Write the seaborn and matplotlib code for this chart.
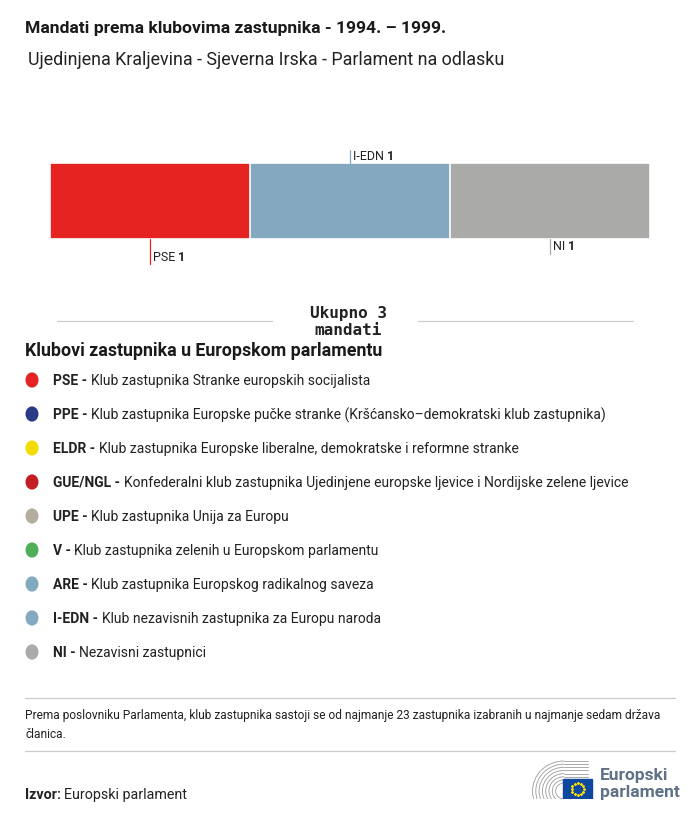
import matplotlib
matplotlib.use("Agg")
import matplotlib.pyplot as plt
import numpy as np
import pandas as pd
import seaborn as sns
from matplotlib.patches import Rectangle, Arc, Circle

# ---- data ----
bar_groups = ["PSE", "I-EDN", "NI"]
bar_seats = [1, 1, 1]
bar_colors = ["#E52421", "#84A9BF", "#AAAAA9"]
label_side = ["below_long", "above", "below_short"]

legend_codes = ["PSE", "PPE", "ELDR", "GUE/NGL", "UPE", "V", "ARE", "I-EDN", "NI"]
legend_names = [
    "Klub zastupnika Stranke europskih socijalista",
    "Klub zastupnika Europske pučke stranke (Kršćansko–demokratski klub zastupnika)",
    "Klub zastupnika Europske liberalne, demokratske i reformne stranke",
    "Konfederalni klub zastupnika Ujedinjene europske ljevice i Nordijske zelene ljevice",
    "Klub zastupnika Unija za Europu",
    "Klub zastupnika zelenih u Europskom parlamentu",
    "Klub zastupnika Europskog radikalnog saveza",
    "Klub nezavisnih zastupnika za Europu naroda",
    "Nezavisni zastupnici",
]
legend_colors = ["#E52421", "#2B3A84", "#F0DC00", "#C41E24", "#B5ADA0",
                 "#4FAE57", "#84A9BF", "#84A9BF", "#AAAAA9"]

title = "Mandati prema klubovima zastupnika - 1994. – 1999."
subtitle = "Ujedinjena Kraljevina - Sjeverna Irska - Parlament na odlasku"
total_text = "Ukupno 3\nmandati"
legend_title = "Klubovi zastupnika u Europskom parlamentu"
note = "Prema poslovniku Parlamenta, klub zastupnika sastoji se od najmanje 23 zastupnika izabranih u najmanje sedam država\nčlanica."

sns.set_theme(style="white")
plt.rcParams["font.family"] = ["Roboto", "DejaVu Sans"]

W, H = 700, 820
fig = plt.figure(figsize=(W / 100, H / 100), dpi=100)
fig.patch.set_facecolor("white")


def fx(x):
    return x / W


def fy(y):
    return 1 - y / H


renderer = fig.canvas.get_renderer()


def rich(x, y, bold, normal, size, color="#222222"):
    t = fig.text(fx(x), fy(y), bold, fontsize=size, fontweight="bold",
                 color=color, va="center", ha="left")
    bb = t.get_window_extent(renderer=renderer)
    fig.text(bb.x1 / W, fy(y), normal, fontsize=size,
             color=color, va="center", ha="left")


# titles
fig.text(fx(25), fy(29), title, fontsize=12.6, fontweight="bold", color="#1a1a1a", va="center")
fig.text(fx(28), fy(60), subtitle, fontsize=12.9, color="#222222", va="center")

# ---- stacked bar through seaborn ----
ax = fig.add_axes([fx(50), fy(240), fx(650) - fx(50), (240 - 164) / H])
cum = np.cumsum(bar_seats)
df = pd.DataFrame({"group": bar_groups, "cum": cum, "row": ["all"] * len(bar_groups)})
for i in range(len(bar_groups) - 1, -1, -1):
    sub = df.iloc[[i]]
    sns.barplot(data=sub, x="cum", y="row", color=bar_colors[i], width=1.0,
                ax=ax, saturation=1, edgecolor="white", linewidth=1.2, orient="h")
ax.set_xlim(0, cum[-1])
ax.set_ylim(0.5, -0.5)
ax.axis("off")

# annotations
starts = np.concatenate([[0], cum[:-1]])
for g, s, v, side, c in zip(bar_groups, starts, bar_seats, label_side, bar_colors):
    xm = s + v / 2
    if side == "above":
        ax.plot([xm, xm], [-0.5, -0.67], color=c, lw=0.9, clip_on=False)
        t = ax.text(xm + 0.015, -0.6, g + " ", fontsize=9, color="#222", va="center", ha="left", clip_on=False)
    elif side == "below_long":
        ax.plot([xm, xm], [0.5, 0.83], color=c, lw=0.9, clip_on=False)
        t = ax.text(xm + 0.015, 0.73, g + " ", fontsize=9, color="#222", va="center", ha="left", clip_on=False)
    else:
        ax.plot([xm, xm], [0.5, 0.7], color=c, lw=0.9, clip_on=False)
        t = ax.text(xm + 0.015, 0.59, g + " ", fontsize=9, color="#222", va="center", ha="left", clip_on=False)
    bb = t.get_window_extent(renderer=renderer)
    fig.text(bb.x1 / W, (bb.y0 + bb.y1) / 2 / H, str(v), fontsize=9, fontweight="bold",
             color="#222", va="center", ha="left")

# total
fig.text(fx(348), fy(322), total_text, fontsize=11.5, fontweight="bold", family="DejaVu Sans Mono",
         color="#222", ha="center", va="center", linespacing=1.2)
fig.add_artist(plt.Line2D([fx(57), fx(272)], [fy(322), fy(322)], color="#cccccc", lw=0.9))
fig.add_artist(plt.Line2D([fx(418), fx(633)], [fy(322), fy(322)], color="#cccccc", lw=0.9))

# legend
fig.text(fx(25), fy(351), legend_title, fontsize=12.8, fontweight="bold", color="#1a1a1a", va="center")
row_y = [381, 415, 449, 483, 517, 551, 585, 619, 653]
for yy, code, name, col in zip(row_y, legend_codes, legend_names, legend_colors):
    fig.add_artist(Circle((fx(32), fy(yy)), radius=6.5 / W, transform=fig.transFigure,
                          color=col, ec="none"))
    rich(53, yy, code + " - ", name, 10)

# footer
fig.add_artist(plt.Line2D([fx(25), fx(675)], [fy(699), fy(699)], color="#cccccc", lw=0.9))
fig.text(fx(25), fy(725), note, fontsize=8.6, color="#222", va="center", linespacing=1.65)
fig.add_artist(plt.Line2D([fx(25), fx(675)], [fy(752), fy(752)], color="#cccccc", lw=0.9))
rich(25, 795, "Izvor: ", "Europski parlament", 10.3)

# logo
lax = fig.add_axes([fx(528), fy(800), fx(595) - fx(528), (800 - 760) / H])
lax.set_xlim(0, 67)
lax.set_ylim(0, 40)
lax.axis("off")
for r in np.linspace(8, 30, 8):
    lax.add_patch(Arc((36, 8), 2 * r * 1.05, 2 * r, theta1=90, theta2=270, color="#9a9a9a", lw=0.6))
    lax.plot([36, 60], [8 + r, 8 + r], color="#9a9a9a", lw=0.6)
lax.add_patch(Rectangle((35, 0), 29, 20, color="#0E47A0", zorder=3))
ang = np.linspace(0, 2 * np.pi, 13)[:-1]
lax.scatter(49.5 + 6 * np.cos(ang), 10 + 6 * np.sin(ang), s=1.2, color="#FFDD00", zorder=4, marker="*")
fig.text(fx(600), fy(776), "Europski", fontsize=12.5, fontweight="bold", color="#5E7186", va="center")
fig.text(fx(600), fy(793), "parlament", fontsize=12.5, fontweight="bold", color="#5E7186", va="center")

fig.savefig("out.png", dpi=100, facecolor="white")
